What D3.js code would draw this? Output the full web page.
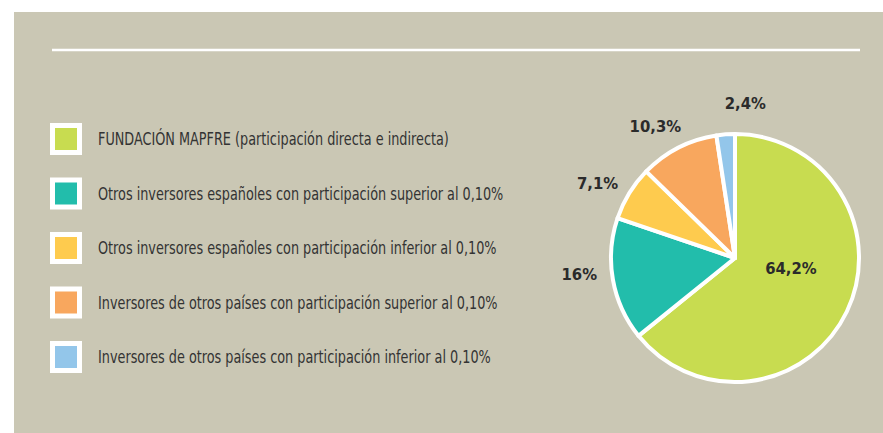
<!DOCTYPE html>
<html>
<head>
<meta charset="utf-8">
<script src="https://cdn.jsdelivr.net/npm/d3@7"></script>
<style>
  body { margin: 0; background: #fff; }
  svg { display: block; }
  .legend text { font-family: "DejaVu Sans Condensed", sans-serif; font-size: 17.5px; fill: #333; }
  .labels text { font-family: "DejaVu Sans Condensed", sans-serif; font-weight: bold; font-size: 16.5px; fill: #2b2b2b; }
</style>
</head>
<body>
<div id="chart"></div>
<script>
"use strict";

var categories = [
    "FUNDACIÓN MAPFRE (participación directa e indirecta)",
    "Otros inversores españoles con participación superior al 0,10%",
    "Otros inversores españoles con participación inferior al 0,10%",
    "Inversores de otros países con participación superior al 0,10%",
    "Inversores de otros países con participación inferior al 0,10%"
];
var values = [64.2, 16, 7.1, 10.3, 2.4];
var valueLabels = ["64,2%", "16%", "7,1%", "10,3%", "2,4%"];
var colors = ["#c8dc50", "#22bdab", "#fecb4e", "#f8a75e", "#93c6ea"];

var width = 883, height = 433;

var svg = d3.select("#chart")
    .append("svg")
    .attr("width", width)
    .attr("height", height);

// panel
svg.append("rect")
    .attr("x", 14).attr("y", 12)
    .attr("width", width - 14).attr("height", height - 12)
    .attr("fill", "#cac7b4");

svg.append("line")
    .attr("x1", 52).attr("x2", 860)
    .attr("y1", 50).attr("y2", 50)
    .attr("stroke", "#fff")
    .attr("stroke-width", 2.5);

// legend
var legendY = d3.scalePoint()
    .domain(categories)
    .range([139, 357]);

var legend = svg.append("g")
    .attr("class", "legend")
    .selectAll("g")
    .data(categories)
    .enter().append("g")
    .attr("transform", function (d) { return "translate(50," + legendY(d) + ")"; });

legend.append("rect")
    .attr("x", 0).attr("y", -16)
    .attr("width", 32).attr("height", 32)
    .attr("fill", "#fff");

legend.append("rect")
    .attr("x", 5).attr("y", -11)
    .attr("width", 22).attr("height", 22)
    .attr("fill", function (d, i) { return colors[i]; });

// condensed look: squeeze the text horizontally
legend.append("text")
    .attr("transform", "translate(48,6) scale(0.815,1)")
    .text(function (d) { return d; });

// pie
var cx = 735, cy = 258, r = 124;

var pie = d3.pie().sort(null).value(function (d) { return d; });
var arcs = pie(values);

var arc = d3.arc().innerRadius(0).outerRadius(r);

var g = svg.append("g").attr("transform", "translate(" + cx + "," + cy + ")");

g.selectAll("path")
    .data(arcs)
    .enter().append("path")
    .attr("d", arc)
    .attr("fill", function (d, i) { return colors[i]; })
    .attr("stroke", "#fff")
    .attr("stroke-width", 4)
    .attr("stroke-linejoin", "round");

// label radius (multiple of r) along the slice middle, plus a small nudge
var labelRadius = [0.5, 1.3, 1.3, 1.3, 1.25];
var labelNudge = [[0, -17], [3, -12], [0, 9], [-6, 12], [22, 0]];

g.append("g")
    .attr("class", "labels")
    .selectAll("text")
    .data(arcs)
    .enter().append("text")
    .attr("text-anchor", "middle")
    .attr("dy", "0.35em")
    .attr("transform", function (d, i) {
        var a = (d.startAngle + d.endAngle) / 2;
        var k = r * labelRadius[i];
        var x = Math.sin(a) * k + labelNudge[i][0];
        var y = -Math.cos(a) * k + labelNudge[i][1];
        return "translate(" + x + "," + y + ")";
    })
    .text(function (d, i) { return valueLabels[i]; });
</script>
</body>
</html>
